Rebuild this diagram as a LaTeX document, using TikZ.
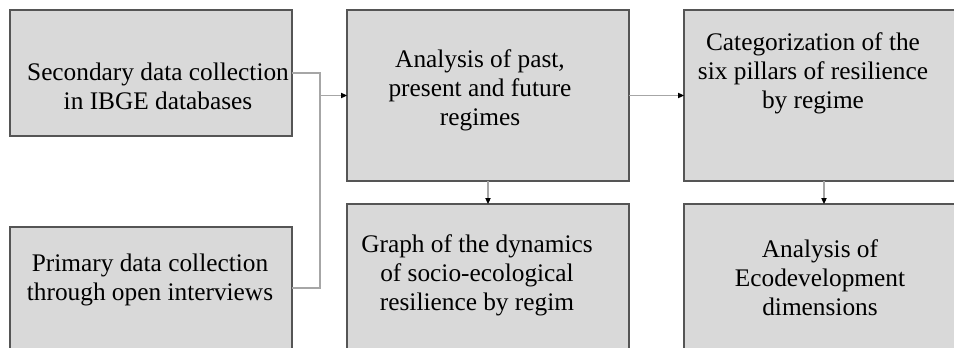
\documentclass[tikz,border=0pt]{standalone}
\usepackage{fontspec}
\setmainfont{Liberation Serif}
\usetikzlibrary{arrows.meta}
\definecolor{boxfill}{HTML}{D9D9D9}
\definecolor{boxline}{HTML}{555555}
\definecolor{conn}{HTML}{A6A6A6}
\begin{document}
\begin{tikzpicture}[x=0.75pt,y=-0.75pt,
  box/.style={draw=boxline,fill=boxfill,line width=1.1pt,inner sep=0pt,outer sep=0pt},
  txt/.style={align=center,inner sep=0pt,font=\fontsize{19}{21.8}\selectfont},
  conline/.style={draw=conn,line width=0.8pt},
  arr/.style={conline,-{Triangle[length=4.5pt,width=4pt,color=black]}}]
\clip (0,0) rectangle (954,347);
\fill[white] (0,0) rectangle (954,347);
% boxes
\node[box,minimum width=282*0.75pt,minimum height=126*0.75pt] (b1) at (151,73) {};
\node[box,minimum width=282*0.75pt,minimum height=122*0.75pt] (b2) at (151,288) {};
\node[box,minimum width=282*0.75pt,minimum height=171*0.75pt] (b3) at (488,95.5) {};
\node[box,minimum width=282*0.75pt,minimum height=160*0.75pt] (b4) at (488,284) {};
\node[box,minimum width=280*0.75pt,minimum height=171*0.75pt] (b5) at (824,95.5) {};
\node[box,minimum width=280*0.75pt,minimum height=160*0.75pt] (b6) at (824,284) {};
% texts
\node[txt] (t1) at (158,86) {Secondary data collection\\ in IBGE databases};
\node[txt] (t2) at (150,280) {Primary data collection\\through open interviews};
\node[txt] (t3) at (480,90) {Analysis of past,\\present and future\\regimes};
\node[txt] (t4) at (477,275.5) {Graph of the dynamics\\of socio-ecological\\resilience by regim};
\node[txt] (t5) at (813,73.5) {Categorization of the\\six pillars of resilience\\by regime};
\node[txt] (t6) at (820,277.5) {Analysis of\\Ecodevelopment\\dimensions};
% connectors
\coordinate (j1) at (320,73);
\coordinate (j2) at (320,288);
\coordinate (j3) at (320,95.5);
\draw[conline] (b1.east) -- (j1) -- (j2) -- (b2.east);
\draw[arr] (j3) -- (b3.west);
\draw[arr] (b3.east) -- (b5.west);
\draw[arr] (b3.south) -- (b4.north);
\draw[arr] (b5.south) -- (b6.north);
\end{tikzpicture}
\end{document}
